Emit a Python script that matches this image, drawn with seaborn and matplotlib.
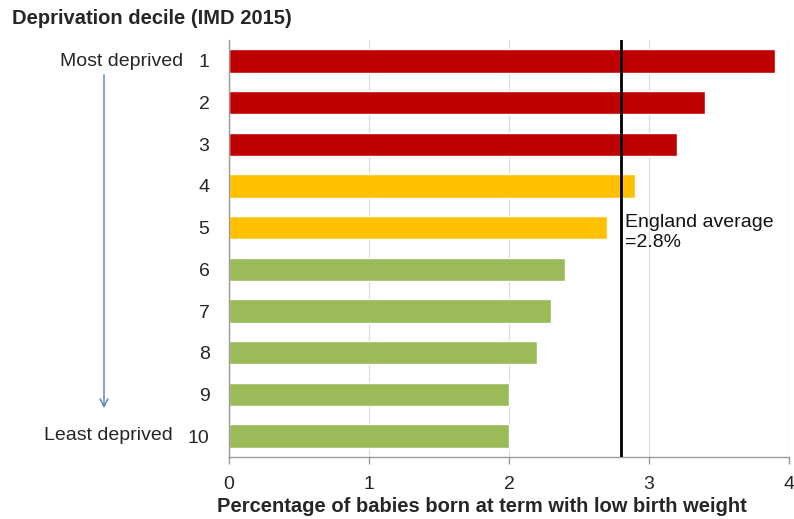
import matplotlib
matplotlib.use("Agg")
import matplotlib.pyplot as plt
import seaborn as sns
import pandas as pd

# Low birth weight at term by deprivation decile
deciles = ["1", "2", "3", "4", "5", "6", "7", "8", "9", "10"]
pct_low_birth_weight = [3.9, 3.4, 3.2, 2.9, 2.7, 2.4, 2.3, 2.2, 2.0, 2.0]
band = ["high", "high", "high", "mid", "mid", "low", "low", "low", "low", "low"]
england_average = 2.8
x_ticks = [0, 1, 2, 3, 4]

band_colours = {"high": "#C00000", "mid": "#FFC000", "low": "#9BBB59"}

df = pd.DataFrame({"decile": deciles, "pct": pct_low_birth_weight, "band": band})

sns.set_theme(style="white")
plt.rcParams["font.family"] = ["Liberation Sans", "DejaVu Sans"]

fig = plt.figure(figsize=(7.94, 5.19), dpi=100)
ax = fig.add_axes([229 / 794, 1 - 457 / 519, 560 / 794, 417 / 519])

sns.barplot(data=df, x="pct", y="decile", hue="band", palette=band_colours,
            order=deciles, orient="h", width=0.56, dodge=False,
            legend=False, ax=ax, saturation=1)

ax.set_xlim(0, 4)
ax.set_ylim(9.5, -0.5)
ax.set_xticks(x_ticks)
ax.set_xticklabels([str(t) for t in x_ticks], fontsize=14)
ax.tick_params(axis="y", labelsize=14, length=0, pad=14)
ax.tick_params(axis="x", length=5, width=1, color="#999999", direction="out",
               bottom=True, pad=9)
ax.set_xlabel("")
ax.set_ylabel("")

ax.grid(axis="x", color="#dddddd", linewidth=0.9)
ax.set_axisbelow(True)
for side in ["top", "right"]:
    ax.spines[side].set_visible(False)
for side in ["left", "bottom"]:
    ax.spines[side].set_color("#999999")
    ax.spines[side].set_linewidth(1)

# England average reference line
ax.axvline(england_average, color="black", linewidth=2, zorder=5)
ax.text(england_average + 0.03, 4.12, "England average\n=2.8%", fontsize=14,
        va="center", ha="left", linespacing=1.2, color="#111111")

# Row descriptors and arrow to the left of the axis
fig.text(12 / 794, 1 - 18 / 519, "Deprivation decile (IMD 2015)",
         fontsize=14.5, fontweight="bold", ha="left", va="center")
fig.text(183 / 794, 1 - 61 / 519, "Most deprived", fontsize=14,
         ha="right", va="center")
fig.text(173 / 794, 1 - 436 / 519, "Least deprived", fontsize=14,
         ha="right", va="center")
fig.patches.append(matplotlib.patches.FancyArrowPatch(
    (104 / 794, 1 - 72 / 519), (104 / 794, 1 - 411 / 519),
    transform=fig.transFigure, arrowstyle="->", mutation_scale=14,
    color="#4F81BD", linewidth=1))

fig.text(482 / 794, 1 - 506 / 519,
         "Percentage of babies born at term with low birth weight",
         fontsize=14.5, fontweight="bold", ha="center", va="center")

fig.savefig("out.png", dpi=100)
